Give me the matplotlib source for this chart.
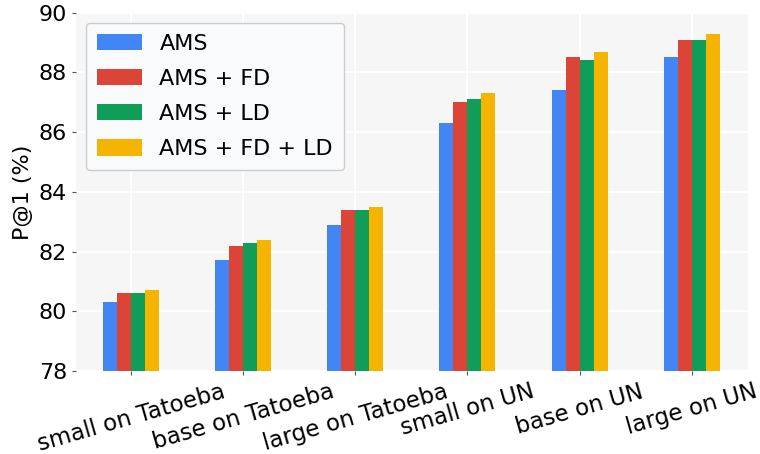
import numpy as np
import matplotlib
matplotlib.use("Agg")
import matplotlib.pyplot as plt

# model / test set groups
groups = ["small on Tatoeba", "base on Tatoeba", "large on Tatoeba",
          "small on UN", "base on UN", "large on UN"]

# P@1 (%) for each setting
ams = [80.3, 81.7, 82.9, 86.3, 87.4, 88.5]
ams_fd = [80.6, 82.2, 83.4, 87.0, 88.5, 89.1]
ams_ld = [80.6, 82.3, 83.4, 87.1, 88.4, 89.1]
ams_fd_ld = [80.7, 82.4, 83.5, 87.3, 88.7, 89.3]

labels = ["AMS", "AMS + FD", "AMS + LD", "AMS + FD + LD"]
colors = ["#4285F4", "#DB4437", "#0F9D58", "#F4B400"]
series = [ams, ams_fd, ams_ld, ams_fd_ld]

fig = plt.figure(figsize=(7.6, 4.54), dpi=100)
ax = fig.add_axes([0.1, 0.183, 0.884, 0.789])
ax.set_facecolor("#f6f6f6")

x = np.arange(len(groups))
w = 0.125
for i, (vals, lab, col) in enumerate(zip(series, labels, colors)):
    ax.bar(x + (i - 1.5) * w, vals, w, label=lab, color=col, zorder=2)

ax.set_ylim(78, 90)
ax.set_xlim(-0.49, 5.5)
ax.set_yticks(range(78, 91, 2))
ax.set_xticks(x)
ax.set_xticklabels(groups, rotation=16, ha="center", fontsize=16.5)
ax.tick_params(axis="y", labelsize=16, length=3, color="#555555")
ax.tick_params(axis="x", length=3, color="#555555")
ax.set_ylabel("P@1 (%)", fontsize=16)

ax.grid(True, color="white", linewidth=1.5, zorder=0)
ax.set_axisbelow(True)
for s in ax.spines.values():
    s.set_visible(False)

leg = ax.legend(loc="upper left", fontsize=16, frameon=True, fancybox=True,
                facecolor="#f9fafb", edgecolor="#cccccc", framealpha=1.0,
                handlelength=2.0, handleheight=0.75, handletextpad=0.8,
                labelspacing=0.68, borderpad=0.5, borderaxespad=0.45)

fig.savefig("out.png", dpi=100)
